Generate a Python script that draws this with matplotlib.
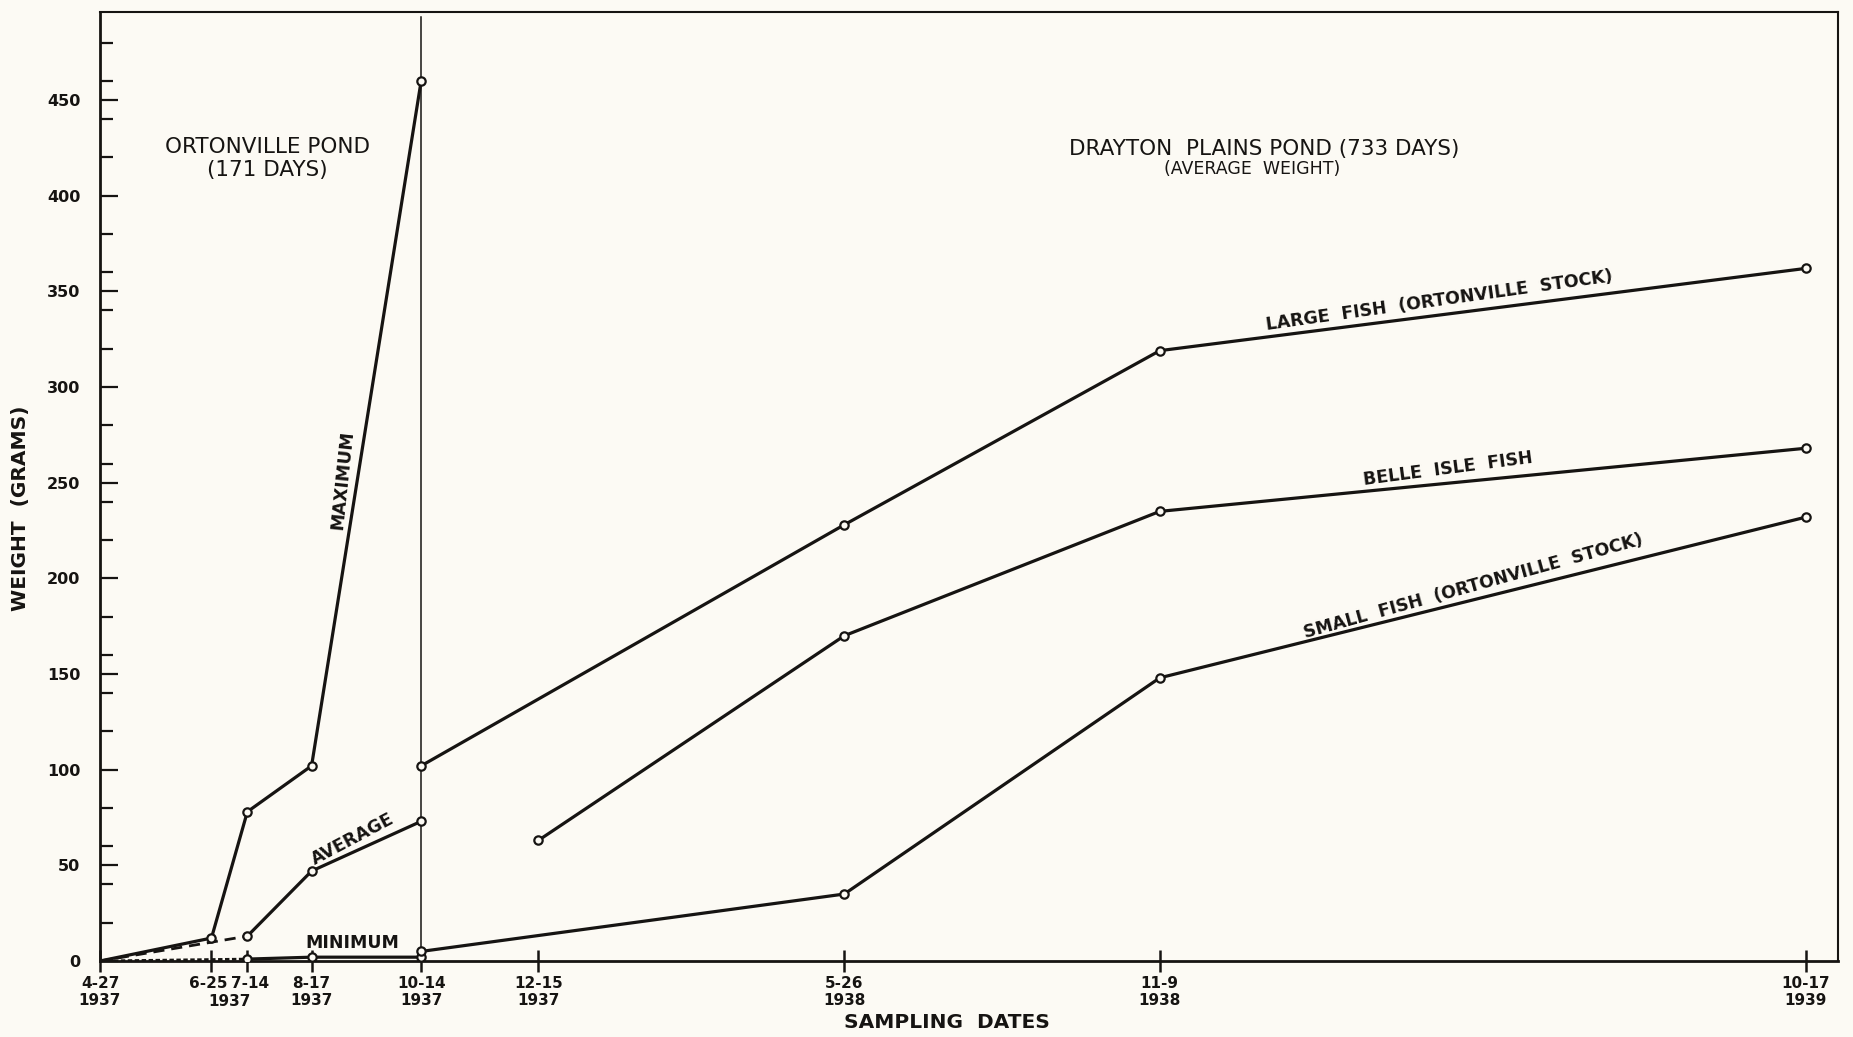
import pandas as pd
import matplotlib.pyplot as plt
from matplotlib.ticker import MultipleLocator
from matplotlib.transforms import ScaledTranslation

# sampling dates shown on the x axis
tick_dates = ['1937-04-27', '1937-06-25', '1937-07-14', '1937-08-17', '1937-10-14',
              '1937-12-15', '1938-05-26', '1938-11-09', '1939-10-17']
tick_labels = ['4-27\n1937', '6-25', '7-14', '8-17\n1937', '10-14\n1937',
               '12-15\n1937', '5-26\n1938', '11-9\n1938', '10-17\n1939']

# Ortonville pond (171 days)
max_dates = ['1937-04-27', '1937-06-25', '1937-07-14', '1937-08-17', '1937-10-14']
max_wt = [0, 12, 78, 102, 460]
avg_dates = ['1937-04-27', '1937-07-14', '1937-08-17', '1937-10-14']
avg_wt = [0, 13, 47, 73]
min_dates = ['1937-04-27', '1937-07-14', '1937-08-17', '1937-10-14']
min_wt = [0, 1, 2, 2]

# Drayton Plains pond (733 days), average weight
large_dates = ['1937-10-14', '1938-05-26', '1938-11-09', '1939-10-17']
large_wt = [102, 228, 319, 362]
belle_dates = ['1937-12-15', '1938-05-26', '1938-11-09', '1939-10-17']
belle_wt = [63, 170, 235, 268]
small_dates = ['1937-10-14', '1938-05-26', '1938-11-09', '1939-10-17']
small_wt = [5, 35, 148, 232]

paper = '#fcfaf4'
ink = '#161412'

plt.rcParams['font.family'] = ['DejaVu Sans']

fig = plt.figure(figsize=(18.53, 10.37), dpi=100, facecolor=paper)
ax = fig.add_axes([100 / 1853, 1 - 961 / 1037, 1738 / 1853, 949 / 1037])
ax.set_facecolor(paper)

mk = dict(marker='o', ms=6, mfc=paper, mec=ink, mew=1.6, zorder=4)


def draw(dates, wt, first_style=None):
    d = pd.to_datetime(dates)
    if first_style is None:
        ax.plot(d, wt, color=ink, lw=2.3, zorder=3)
    else:
        ax.plot(d[:2], wt[:2], color=ink, lw=2.0, dashes=first_style, zorder=3)
        ax.plot(d[1:], wt[1:], color=ink, lw=2.3, zorder=3)
    # the common starting point (4-27) carries no circle
    start = 1 if dates[0] == '1937-04-27' else 0
    ax.plot(d[start:], wt[start:], ls='none', **mk)


# divider between the two ponds
ax.axvline(pd.Timestamp('1937-10-14'), ymin=0, ymax=0.995, color=ink, lw=1.1, zorder=2)

draw(max_dates, max_wt)
draw(avg_dates, avg_wt, first_style=(4, 2.5))
draw(min_dates, min_wt, first_style=(1.6, 0.9))
draw(large_dates, large_wt)
draw(belle_dates, belle_wt)
draw(small_dates, small_wt)

ax.set_xlim(pd.Timestamp('1937-04-27'), pd.Timestamp('1939-11-03'))
ax.set_ylim(0, 496)

ax.set_xticks(pd.to_datetime(tick_dates))
ax.set_xticklabels(tick_labels, fontsize=11, fontweight='bold', linespacing=1.15)
ax.tick_params(axis='x', direction='inout', length=16, width=1.8, color=ink, pad=3)
xl = ax.get_xticklabels()
xl[1].set_transform(xl[1].get_transform() + ScaledTranslation(-3 / 100, 0, fig.dpi_scale_trans))
xl[2].set_transform(xl[2].get_transform() + ScaledTranslation(3 / 100, 0, fig.dpi_scale_trans))
mid = pd.Timestamp('1937-06-25') + (pd.Timestamp('1937-07-14') - pd.Timestamp('1937-06-25')) / 2
ax.text(mid, -0.043, '1937', transform=ax.get_xaxis_transform(), ha='center', va='center',
        fontsize=11, fontweight='bold', color=ink)

ax.yaxis.set_major_locator(MultipleLocator(50))
ax.yaxis.set_minor_locator(MultipleLocator(20))
ax.tick_params(axis='y', which='major', direction='in', length=13, width=1.6, color=ink, pad=14)
ax.tick_params(axis='y', which='minor', direction='in', length=9, width=1.6, color=ink)
for lab in ax.get_yticklabels():
    lab.set_fontsize(11.5)
    lab.set_fontweight('bold')
for lab in ax.get_xticklabels() + ax.get_yticklabels():
    lab.set_color(ink)

for side in ['left', 'bottom']:
    ax.spines[side].set_linewidth(2.0)
for side in ['top', 'right']:
    ax.spines[side].set_linewidth(1.5)
for sp in ax.spines.values():
    sp.set_color(ink)

# axis titles
fig.text(0.0108, 0.51, 'WEIGHT  (GRAMS)', rotation=90, ha='center', va='center',
         fontsize=14.5, fontweight='bold', color=ink)
fig.text(0.511, 0.014, 'SAMPLING  DATES', ha='center', va='center',
         fontsize=14.5, fontweight='bold', color=ink)

# pond headings
fig.text(0.1441, 0.858, 'ORTONVILLE POND', ha='center', va='center', fontsize=15.5, color=ink)
fig.text(0.1441, 0.836, '(171 DAYS)', ha='center', va='center', fontsize=15.5, color=ink)
fig.text(0.6821, 0.856, 'DRAYTON  PLAINS POND (733 DAYS)', ha='center', va='center',
         fontsize=15.5, color=ink)
fig.text(0.6757, 0.837, '(AVERAGE  WEIGHT)', ha='center', va='center', fontsize=12.5, color=ink)

# curve labels
lbl = dict(ha='center', va='center', fontsize=12.5, fontweight='bold', color=ink,
           rotation_mode='anchor')
fig.text(0.1851, 0.537, 'MAXIMUM', rotation=84, **lbl)
fig.text(0.1905, 0.191, 'AVERAGE', rotation=28, **lbl)
fig.text(0.19, 0.0906, 'MINIMUM', rotation=0, **lbl)
fig.text(0.7766, 0.7097, 'LARGE  FISH  (ORTONVILLE  STOCK)', rotation=8, **lbl)
fig.text(0.7814, 0.5477, 'BELLE  ISLE  FISH', rotation=7.5, **lbl)
fig.text(0.7949, 0.4349, 'SMALL  FISH  (ORTONVILLE  STOCK)', rotation=15.5, **lbl)

plt.savefig('out.png', dpi=100, facecolor=paper)
